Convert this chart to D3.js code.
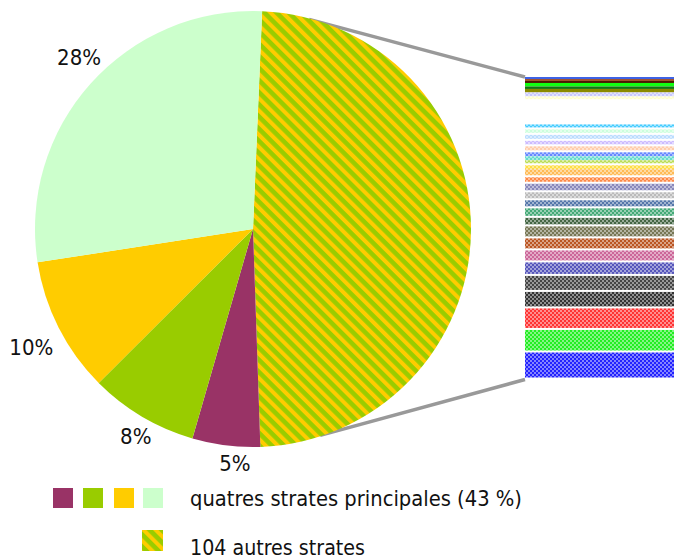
<!DOCTYPE html>
<html>
<head>
<meta charset="utf-8">
<script src="https://cdn.jsdelivr.net/npm/d3@7"></script>
<style>
  html, body { margin: 0; padding: 0; background: #fff; }
  svg { display: block; }
  text { font-family: "DejaVu Sans Condensed", "Liberation Sans", sans-serif; fill: #111; }
</style>
</head>
<body>
<svg id="chart" width="674" height="559"></svg>
<script>
// Share of the population by stratum (%): the four main strata and the remaining ones together
const pieNames  = ["104 autres strates", "strate 4", "strate 3", "strate 2", "strate 1"];
const pieValues = [48.6, 5, 8, 10, 28];
const pieLabels = ["", "5%", "8%", "10%", "28%"];
const pieColors = [null, "#993366", "#99cc00", "#ffcc00", "#ccffcc"];

// Breakdown of the remaining strata (% of the population), top to bottom
const strataValues = [0.32, 0.32, 0.32, 0.56, 0.40, 0.56, 0.64, 0.48, 4.02,
                      0.80, 0.88, 0.96, 0.88, 0.96, 0.64, 0.64, 0.80, 0.64,
                      1.29, 1.04, 1.37, 1.29, 1.29, 1.53, 1.37, 1.93, 1.93,
                      1.93, 2.17, 2.57, 2.65, 3.46, 3.62, 4.34];
const strataColors = ["#3f63e6", "#a0522d", "#4a1a00", "#11ff11", "#117711", "#8a8a00", "#c8c8ff", "#ffffcc", "#ffffff",
                      "#44ccff", "#ccffdd", "#bbddff", "#ccbbff", "#ffccaa", "#6688ff", "#66ddcc", "#bbdd55", "#ffdd44",
                      "#ffbb55", "#ff8844", "#8888bb", "#bbbbbb", "#5577aa", "#44aa77", "#446644", "#777755", "#bb5522",
                      "#cc6699", "#5555bb", "#444444", "#333333", "#ff3333", "#22ee22", "#2222ff"];
const strataSolid = [true, true, true, true, true, true, false, false, true,
                     false, false, false, false, false, false, false, false, false,
                     false, false, false, false, false, false, false, false, false,
                     false, false, false, false, false, false, false];

const legendColors = ["#993366", "#99cc00", "#ffcc00", "#ccffcc"];
const legendTexts  = ["quatres strates principales (43 %)", "104 autres strates"];

const svg = d3.select("#chart");
const defs = svg.append("defs");

// Diagonal yellow / green hatching for the "other strata" slice
const hatch = defs.append("pattern")
  .attr("id", "hatch")
  .attr("patternUnits", "userSpaceOnUse")
  .attr("width", 8.6).attr("height", 8.6)
  .attr("patternTransform", "rotate(-45)");
hatch.append("rect").attr("width", 8.6).attr("height", 8.6).attr("fill", "#99cc00");
hatch.append("rect").attr("width", 4.0).attr("height", 8.6).attr("fill", "#ffcc00");

// Checker patterns for the strata bands
strataColors.forEach((c, i) => {
  const p = defs.append("pattern")
    .attr("id", "chk" + i)
    .attr("patternUnits", "userSpaceOnUse")
    .attr("width", 4).attr("height", 4);
  p.append("rect").attr("width", 4).attr("height", 4)
    .attr("fill", d3.interpolateRgb(c, "#ffffff")(0.45));
  p.append("rect").attr("width", 2).attr("height", 2).attr("fill", c);
  p.append("rect").attr("x", 2).attr("y", 2).attr("width", 2).attr("height", 2).attr("fill", c);
});

// ---- Pie ----
const cx = 253, cy = 229, R = 218;
const deg = Math.PI / 180;
const startA = 2.4 * deg;
const pie = d3.pie().sort(null).value(d => d)
  .startAngle(startA).endAngle(startA + 2 * Math.PI);
const arcs = pie(pieValues);
const arc = d3.arc().innerRadius(0).outerRadius(R);
const labelArc = d3.arc().innerRadius(244).outerRadius(244);
// small hand nudges so the percentage labels clear the rim
const labelNudge = [[0, 0], [12, -8], [7, -3], [-4, 8], [8, -9]];

// ---- Stacked bar of the remaining strata ----
const barX0 = 525, barX1 = 674;
const cum = d3.cumsum(strataValues);
const total = cum[cum.length - 1];
const y = d3.scaleLinear().domain([0, total]).range([77, 379.5]);

// connector lines from the rim of the hatched slice to the bar ends
const gLines = svg.append("g").attr("transform", `translate(${cx},${cy})`);
const other = arcs[0];
const aTop = other.startAngle + 12.6 * deg, aBot = other.endAngle - 16.1 * deg;
const pt = (a, r) => [r * Math.sin(a), -r * Math.cos(a)];
[[aTop, y(0)], [aBot, y(total)]].forEach(([a, yy]) => {
  const p = pt(a, R - 1);
  gLines.append("line")
    .attr("x1", p[0]).attr("y1", p[1])
    .attr("x2", barX0 - cx).attr("y2", yy - cy)
    .attr("stroke", "#999999").attr("stroke-width", 3.5);
});

const gPie = svg.append("g").attr("transform", `translate(${cx},${cy})`);
gPie.selectAll("path").data(arcs).join("path")
  .attr("d", arc)
  .attr("fill", (d, i) => pieColors[i] ? pieColors[i] : "url(#hatch)");

gPie.selectAll("text").data(arcs).join("text")
  .attr("transform", (d, i) => {
    const c = labelArc.centroid(d);
    return `translate(${c[0] + labelNudge[i][0]},${c[1] + labelNudge[i][1]})`;
  })
  .attr("text-anchor", "middle")
  .attr("dy", "0.35em")
  .attr("font-size", 22)
  .text((d, i) => pieLabels[i]);

const gBar = svg.append("g");
gBar.selectAll("rect").data(strataValues).join("rect")
  .attr("x", barX0)
  .attr("width", barX1 - barX0)
  .attr("y", (d, i) => y(cum[i] - d))
  .attr("height", (d, i) => {
    const h = y(cum[i]) - y(cum[i] - d);
    return h >= 4 && !strataSolid[i] ? h - 2 : h;
  })
  .attr("fill", (d, i) => strataSolid[i] ? strataColors[i] : `url(#chk${i})`);

// ---- Legend ----
const gLeg = svg.append("g");
gLeg.selectAll("rect.main").data(legendColors).join("rect")
  .attr("class", "main")
  .attr("x", (d, i) => [53, 83, 114, 143][i])
  .attr("y", 488).attr("width", 20).attr("height", 20)
  .attr("fill", d => d);
gLeg.append("rect")
  .attr("x", 142).attr("y", 530).attr("width", 21).attr("height", 21)
  .attr("fill", "url(#hatch)");
gLeg.selectAll("text").data(legendTexts).join("text")
  .attr("x", 190)
  .attr("y", (d, i) => [506, 555][i])
  .attr("font-size", 22)
  .attr("textLength", (d, i) => [332, 175][i])
  .attr("lengthAdjust", "spacingAndGlyphs")
  .text(d => d);
</script>
</body>
</html>
